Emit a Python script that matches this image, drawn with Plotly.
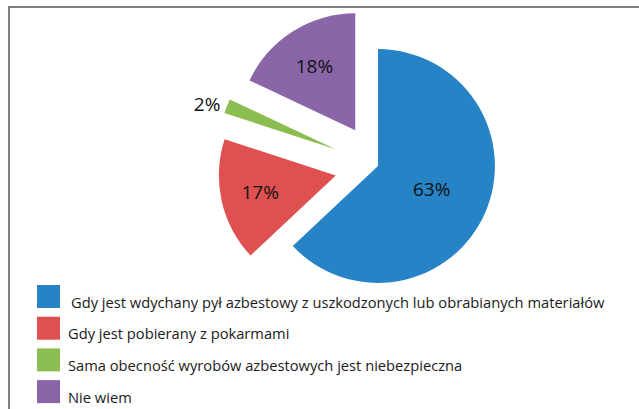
import plotly.graph_objects as go

# ---- data ----
labels = [
    "Gdy jest wdychany pył azbestowy z uszkodzonych lub obrabianych materiałów",
    "Gdy jest pobierany z pokarmami",
    "Sama obecność wyrobów azbestowych jest niebezpieczna",
    "Nie wiem",
]
values = [63, 17, 2, 18]
colors = ["#2683C6", "#DE5150", "#8CBD50", "#8A65A8"]
pulls = [0.0, 0.37, 0.39, 0.363]
text_pos = ["inside", "inside", "outside", "inside"]

W, H = 639, 409
FONT = "Open Sans"


def px(x):
    return x / W


def py(y):
    return 1 - y / H


# pie geometry (pixels)
cx, cy, side = 378, 166, 325

fig = go.Figure()
fig.add_trace(go.Pie(
    labels=labels,
    values=values,
    marker=dict(colors=colors, line=dict(width=0)),
    pull=pulls,
    sort=False,
    direction="clockwise",
    rotation=0,
    texttemplate="%{value}%",
    textposition=text_pos,
    insidetextorientation="horizontal",
    automargin=False,
    textfont=dict(family=FONT, size=19, color="#111111"),
    domain=dict(x=[px(cx - side / 2), px(cx + side / 2)],
                y=[py(cy + side / 2), py(cy - side / 2)]),
    showlegend=False,
    hoverinfo="label+percent",
))

shapes = [dict(type="rect", xref="paper", yref="paper",
               x0=px(9), y0=py(H + 20), x1=px(W + 20), y1=py(7),
               line=dict(color="#555555", width=1.5), fillcolor="rgba(0,0,0,0)")]
annotations = []

# legend built from the category lists
leg_x0, leg_top, leg_step, sq = 37, 285, 31.7, 23
for i, (lab, col) in enumerate(zip(labels, colors)):
    top = leg_top + i * leg_step
    shapes.append(dict(type="rect", xref="paper", yref="paper",
                       x0=px(leg_x0), x1=px(leg_x0 + sq),
                       y0=py(top + sq), y1=py(top),
                       fillcolor=col, line=dict(width=0)))
    annotations.append(dict(xref="paper", yref="paper",
                            x=px(66 + (3 if i == 0 else 0)), y=py(top + sq / 2 + 5),
                            xanchor="left", yanchor="middle", showarrow=False,
                            text=lab, font=dict(family=FONT, size=14.7, color="#1a1a1a")))

fig.update_layout(
    width=W, height=H,
    autosize=False,
    margin=dict(l=0, r=0, t=0, b=0, pad=0, autoexpand=False),
    paper_bgcolor="white",
    plot_bgcolor="white",
    shapes=shapes,
    annotations=annotations,
)

fig.write_html("out.html", config={"displayModeBar": False},
               post_script="document.body.style.margin='0';")
